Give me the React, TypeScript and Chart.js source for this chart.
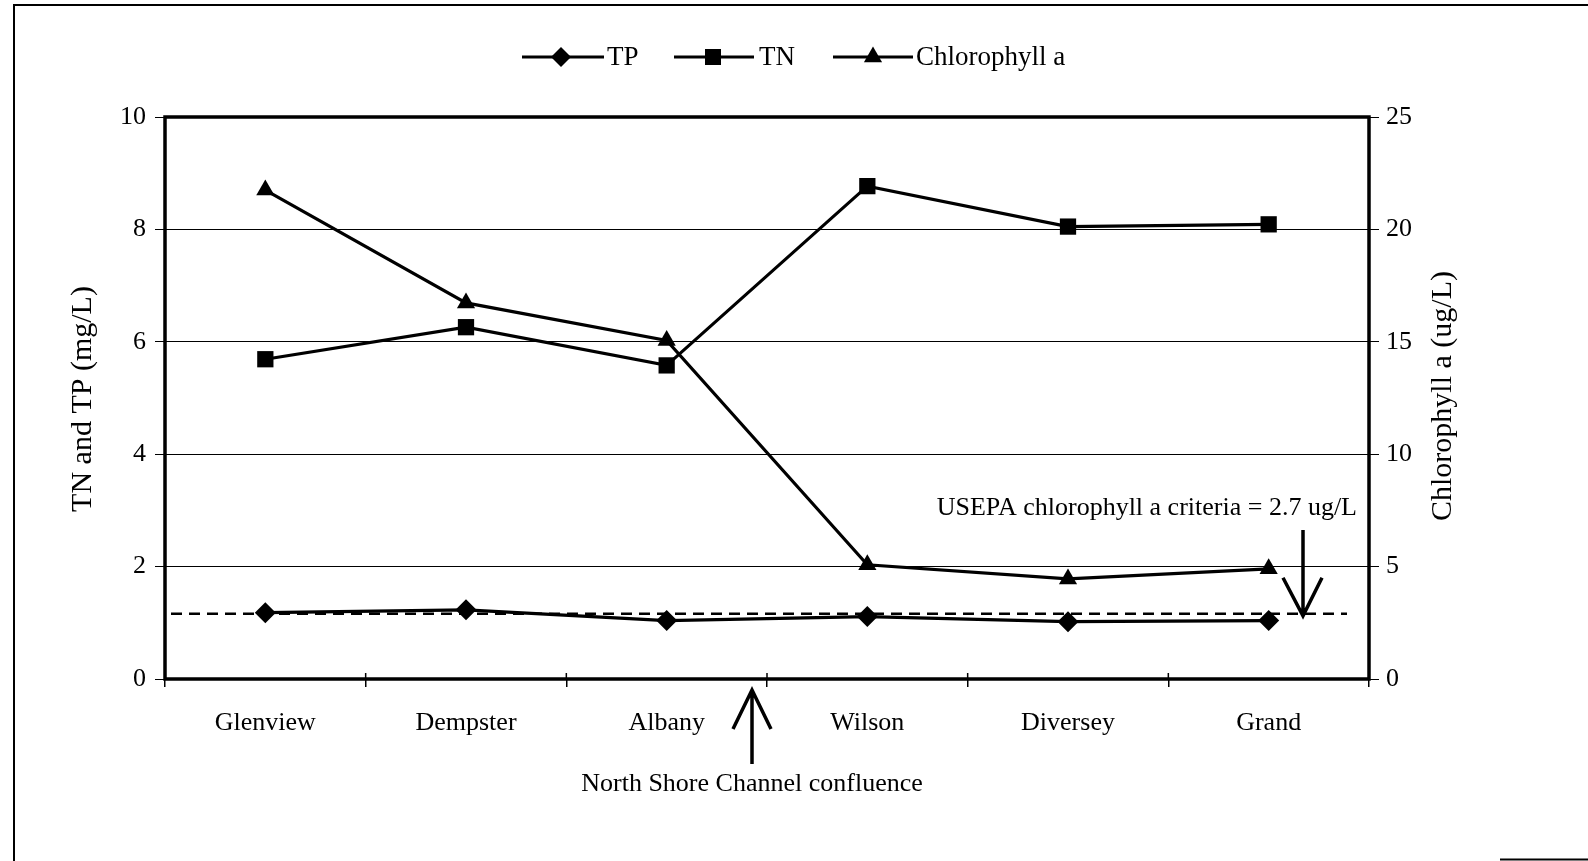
import React, { useEffect, useRef } from 'react';
import { Chart, registerables } from 'chart.js';

Chart.register(...registerables);

const categories = ['Glenview', 'Dempster', 'Albany', 'Wilson', 'Diversey', 'Grand'];
const tpValues = [1.18, 1.23, 1.04, 1.11, 1.02, 1.04];
const tnValues = [5.69, 6.26, 5.58, 8.77, 8.05, 8.09];
const chlValues = [21.75, 16.73, 15.06, 5.08, 4.45, 4.9];
const leftTicks = [0, 2, 4, 6, 8, 10];
const rightTicks = [0, 5, 10, 15, 20, 25];
const criteriaLineValue = 2.9; // where the dashed criteria line sits on the right axis
const criteriaLabel = 'USEPA chlorophyll a criteria = 2.7 ug/L';
const confluenceLabel = 'North Shore Channel confluence';
const leftTitle = 'TN and TP (mg/L)';
const rightTitle = 'Chlorophyll a (ug/L)';
const legendNames = ['TP', 'TN', 'Chlorophyll a'];

const W = 1588;
const H = 861;
const PLOT_TOP = 117;
const PLOT_BOTTOM = 679;
const PLOT_LEFT = 165;
const PLOT_RIGHT = 1369;
const SERIF = '"Liberation Serif", "Times New Roman", Times, serif';

function drawMarker(ctx: CanvasRenderingContext2D, kind: string, x: number, y: number) {
  ctx.beginPath();
  if (kind === 'diamond') {
    const r = 10;
    ctx.moveTo(x, y - r);
    ctx.lineTo(x + r, y);
    ctx.lineTo(x, y + r);
    ctx.lineTo(x - r, y);
  } else if (kind === 'square') {
    const s = 8;
    ctx.rect(x - s, y - s, 2 * s, 2 * s);
  } else {
    const r = 10.5;
    ctx.moveTo(x, y - r);
    ctx.lineTo(x + r * Math.sin(Math.PI / 3), y + r / 2);
    ctx.lineTo(x - r * Math.sin(Math.PI / 3), y + r / 2);
  }
  ctx.closePath();
  ctx.fill();
}

const decorPlugin = {
  id: 'decor',
  beforeDraw(chart: any) {
    const { ctx } = chart;
    ctx.save();
    ctx.fillStyle = '#fff';
    ctx.fillRect(0, 0, chart.width, chart.height);
    ctx.restore();
  },
  beforeDatasetsDraw(chart: any) {
    const { ctx, chartArea: ca, scales } = chart;
    ctx.save();
    ctx.strokeStyle = '#000';
    // small upward parts of the category ticks
    ctx.lineWidth = 1.5;
    ctx.beginPath();
    for (let i = 0; i <= categories.length; i++) {
      const px = scales.x.getPixelForValue(i - 0.5);
      ctx.moveTo(px, ca.bottom);
      ctx.lineTo(px, ca.bottom - 6);
    }
    ctx.stroke();
    // plot frame
    ctx.lineWidth = 3.5;
    ctx.strokeRect(ca.left, ca.top, ca.right - ca.left, ca.bottom - ca.top);
    // criteria dashed line
    const yc = scales.y1.getPixelForValue(criteriaLineValue);
    ctx.lineWidth = 2.5;
    ctx.setLineDash([11, 7]);
    ctx.beginPath();
    ctx.moveTo(ca.left + 6, yc);
    ctx.lineTo(ca.right - 22, yc);
    ctx.stroke();
    ctx.restore();
  },
  afterDraw(chart: any) {
    const { ctx, chartArea: ca, scales } = chart;
    ctx.save();
    ctx.strokeStyle = '#000';
    ctx.fillStyle = '#000';

    // page border
    ctx.lineWidth = 2;
    ctx.beginPath();
    ctx.moveTo(14, H);
    ctx.lineTo(14, 5);
    ctx.lineTo(W, 5);
    ctx.stroke();
    ctx.beginPath();
    ctx.moveTo(1500, 859.5);
    ctx.lineTo(W, 859.5);
    ctx.stroke();

    // legend
    const ly = 57;
    const items = [
      { kind: 'diamond', x0: 522, x1: 604, mx: 561, tx: 607 },
      { kind: 'square', x0: 674, x1: 754, mx: 713, tx: 759 },
      { kind: 'triangle', x0: 833, x1: 913, mx: 873, tx: 916 },
    ];
    ctx.font = `27px ${SERIF}`;
    ctx.textAlign = 'left';
    ctx.textBaseline = 'middle';
    items.forEach((it, i) => {
      ctx.lineWidth = 3;
      ctx.beginPath();
      ctx.moveTo(it.x0, ly);
      ctx.lineTo(it.x1, ly);
      ctx.stroke();
      drawMarker(ctx, it.kind, it.mx, ly);
      ctx.fillText(legendNames[i], it.tx, ly + 1);
    });

    // axis titles
    ctx.font = `30px ${SERIF}`;
    ctx.textAlign = 'center';
    ctx.textBaseline = 'middle';
    ctx.save();
    ctx.translate(83, 399);
    ctx.rotate(-Math.PI / 2);
    ctx.fillText(leftTitle, 0, 0);
    ctx.restore();
    ctx.save();
    ctx.translate(1443, 396);
    ctx.rotate(-Math.PI / 2);
    ctx.fillText(rightTitle, 0, 0);
    ctx.restore();

    // criteria annotation
    ctx.font = `26px ${SERIF}`;
    ctx.textAlign = 'right';
    ctx.textBaseline = 'alphabetic';
    ctx.fillText(criteriaLabel, 1357, 515);
    const yc = scales.y1.getPixelForValue(criteriaLineValue);
    const ax = 1303;
    ctx.lineWidth = 3.5;
    ctx.beginPath();
    ctx.moveTo(ax, 530);
    ctx.lineTo(ax, yc + 2);
    ctx.moveTo(ax - 20, yc - 36);
    ctx.lineTo(ax, yc + 2);
    ctx.lineTo(ax + 19, yc - 36);
    ctx.stroke();

    // confluence annotation
    const cx = 752;
    const tipY = ca.bottom + 11;
    ctx.beginPath();
    ctx.moveTo(cx, tipY);
    ctx.lineTo(cx, 764);
    ctx.moveTo(cx - 19, tipY + 39);
    ctx.lineTo(cx, tipY);
    ctx.lineTo(cx + 19, tipY + 39);
    ctx.stroke();
    ctx.textAlign = 'center';
    ctx.fillText(confluenceLabel, 752, 791);

    ctx.restore();
  },
};

export default function App() {
  const ref = useRef<HTMLCanvasElement | null>(null);

  useEffect(() => {
    if (!ref.current) return;
    const common = {
      borderColor: '#000',
      backgroundColor: '#000',
      borderWidth: 3.2,
      pointBackgroundColor: '#000',
      pointBorderColor: '#000',
      pointBorderWidth: 0,
      tension: 0,
      fill: false,
      clip: false as any,
    };
    const chart = new Chart(ref.current, {
      type: 'line',
      data: {
        labels: categories,
        datasets: [
          { ...common, label: legendNames[0], data: tpValues, yAxisID: 'y', pointStyle: 'rectRot', pointRadius: 10.5 },
          { ...common, label: legendNames[1], data: tnValues, yAxisID: 'y', pointStyle: 'rect', pointRadius: 11.5 },
          { ...common, label: legendNames[2], data: chlValues, yAxisID: 'y1', pointStyle: 'triangle', pointRadius: 10.5 },
        ],
      },
      options: {
        responsive: false,
        animation: false,
        events: [],
        layout: { padding: { top: PLOT_TOP, left: 0, right: 0, bottom: 0 } },
        plugins: {
          legend: { display: false },
          tooltip: { enabled: false },
          title: { display: false },
        },
        scales: {
          x: {
            type: 'category',
            offset: true,
            grid: { offset: true, drawOnChartArea: false, color: '#000', lineWidth: 1.5, tickLength: 8 },
            border: { display: false },
            ticks: { color: '#000', font: { family: SERIF, size: 26 }, padding: 21, maxRotation: 0, autoSkip: false },
            afterFit: (s: any) => { s.height = H - PLOT_BOTTOM; },
          },
          y: {
            position: 'left',
            min: 0,
            max: 10,
            afterBuildTicks: (s: any) => { s.ticks = leftTicks.map((v) => ({ value: v })); },
            grid: { color: '#000', lineWidth: 1, tickLength: 10 },
            border: { display: false },
            ticks: { color: '#000', font: { family: SERIF, size: 26 }, padding: 9 },
            afterFit: (s: any) => { s.width = PLOT_LEFT; },
          },
          y1: {
            position: 'right',
            min: 0,
            max: 25,
            afterBuildTicks: (s: any) => { s.ticks = rightTicks.map((v) => ({ value: v })); },
            grid: { drawOnChartArea: false, color: '#000', lineWidth: 1, tickLength: 10 },
            border: { display: false },
            ticks: { color: '#000', font: { family: SERIF, size: 26 }, padding: 7 },
            afterFit: (s: any) => { s.width = W - PLOT_RIGHT; },
          },
        },
      },
      plugins: [decorPlugin],
    } as any);
    return () => chart.destroy();
  }, []);

  return (
    <div style={{ position: 'fixed', left: 0, top: 0, width: W, height: H, background: '#fff' }}>
      <canvas ref={ref} width={W} height={H} style={{ display: 'block', width: W, height: H }} />
    </div>
  );
}
